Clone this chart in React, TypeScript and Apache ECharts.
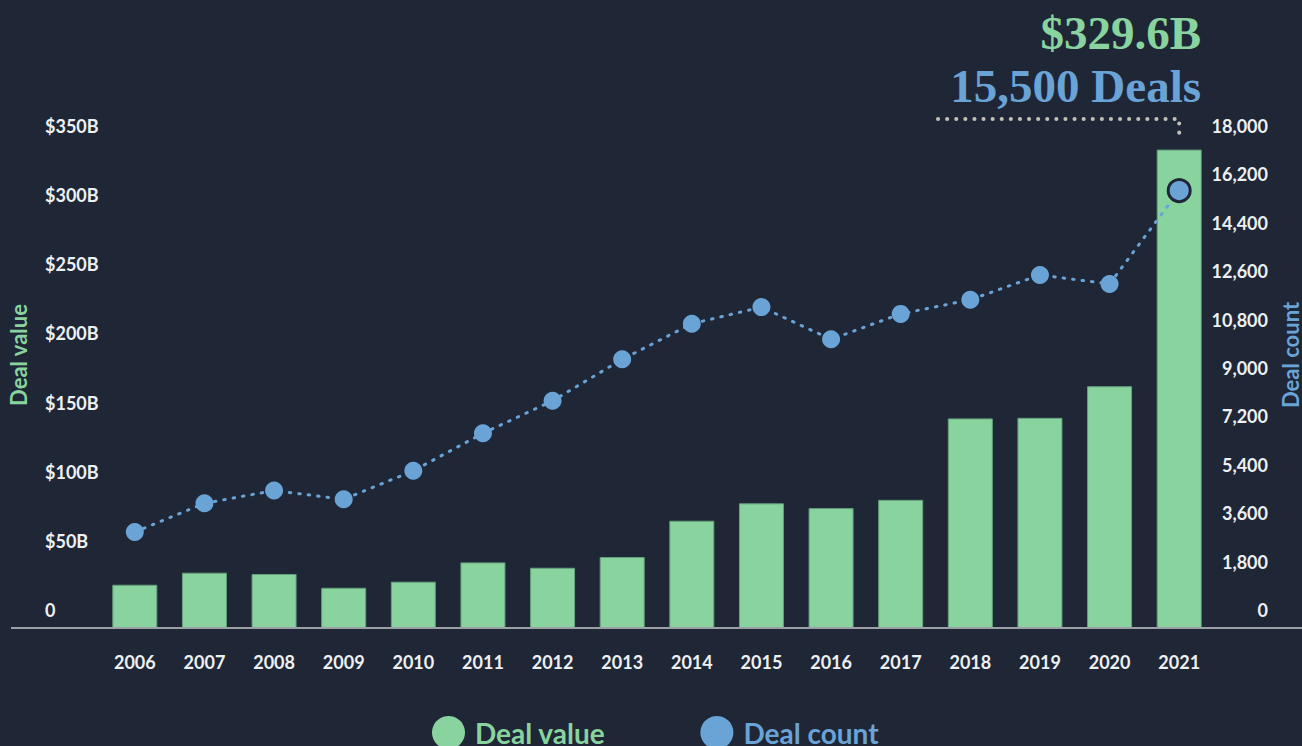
import React, { useEffect, useRef } from 'react';
import * as echarts from 'echarts';

const years = ['2006', '2007', '2008', '2009', '2010', '2011', '2012', '2013', '2014', '2015', '2016', '2017', '2018', '2019', '2020', '2021'];
const dealValue = [29.8, 38.1, 37.2, 27.7, 31.9, 45.2, 41.5, 48.9, 73.9, 85.9, 82.6, 88.3, 144.4, 144.8, 166.6, 329.6];
const dealCount = [3400, 4420, 4870, 4560, 5570, 6900, 8050, 9520, 10780, 11370, 10230, 11130, 11630, 12510, 12190, 15500];
const valueTickLabels = ['0', '$50B', '$100B', '$150B', '$200B', '$250B', '$300B', '$350B'];
const countTickLabels = ['0', '1,800', '3,600', '5,400', '7,200', '9,000', '10,800', '12,600', '14,400', '16,200', '18,000'];

const BG = '#1f2737';
const GREEN = '#88d39e';
const BLUE = '#6aa3d6';
const LABEL = '#eef0f2';
const SANS = 'Lato';
const SERIF = 'Liberation Serif';

export default function App() {
  const ref = useRef<HTMLDivElement>(null);
  useEffect(() => {
    document.body.style.margin = '0';
    document.body.style.background = BG;
    const chart = echarts.init(ref.current!, null, { renderer: 'svg' });
    const last = years.length - 1;
    const tickLabel = { color: LABEL, fontSize: 18, fontFamily: SANS, fontWeight: 'bold' as const };
    chart.setOption({
      animation: false,
      backgroundColor: BG,
      grid: [
        { left: 100, right: 88, top: 120, bottom: 118 },
        { left: 100, right: 88, top: 126, bottom: 136 },
      ],
      xAxis: [
        {
          type: 'category', gridIndex: 0, data: years,
          axisLine: { show: false }, axisTick: { show: false },
          axisLabel: { ...tickLabel, margin: 25 },
        },
        { type: 'value', gridIndex: 1, min: 0, max: 1, show: false },
      ],
      yAxis: [
        { type: 'value', gridIndex: 0, min: 0, max: 350, interval: 50, show: false },
        { type: 'value', gridIndex: 0, min: 0, max: 18000, interval: 1800, show: false, position: 'right' },
        {
          type: 'value', gridIndex: 1, min: 0, max: 350, interval: 50, position: 'left',
          axisLine: { show: false }, axisTick: { show: false }, splitLine: { show: false },
          axisLabel: { ...tickLabel, align: 'left', margin: 55, formatter: (v: number) => valueTickLabels[Math.round(v / 50)] },
        },
        {
          type: 'value', gridIndex: 1, min: 0, max: 18000, interval: 1800, position: 'right',
          axisLine: { show: false }, axisTick: { show: false }, splitLine: { show: false },
          axisLabel: { ...tickLabel, align: 'right', margin: 54, formatter: (v: number) => countTickLabels[Math.round(v / 1800)] },
        },
      ],
      legend: {
        left: 427, top: 711, icon: 'circle', itemWidth: 33, itemHeight: 33, itemGap: 95,
        itemStyle: { borderWidth: 0 },
        textStyle: { fontSize: 28, lineHeight: 24, fontFamily: SANS, fontWeight: 'bold', padding: [0, 0, 0, 5] },
        data: [
          { name: 'Deal value', textStyle: { color: GREEN } },
          { name: 'Deal count', textStyle: { color: BLUE } },
        ],
      },
      series: [
        {
          type: 'bar', name: 'Deal value', xAxisIndex: 0, yAxisIndex: 0, data: dealValue, barWidth: 45,
          itemStyle: { color: GREEN, borderColor: '#64a07c', borderWidth: 1 },
        },
        {
          type: 'line', name: 'Deal count', xAxisIndex: 0, yAxisIndex: 1, z: 3,
          data: dealCount.map((v, i) => (i === last ? { value: v, symbolSize: 22, itemStyle: { borderColor: BG, borderWidth: 3 } } : v)),
          symbol: 'circle', symbolSize: 18,
          itemStyle: { color: BLUE },
          lineStyle: { color: BLUE, width: 3, type: [1.5, 8], cap: 'round' },
        },
      ],
    });
    const px = chart.convertToPixel({ xAxisIndex: 0, yAxisIndex: 0 }, [years[last], dealValue[last]]) as number[];
    const x21 = px[0];
    const barTop = px[1];
    chart.setOption({
      graphic: [
        { type: 'line', z: 10, shape: { x1: 11, y1: 628, x2: 1302, y2: 628 }, style: { stroke: '#9ba0a6', lineWidth: 2 } },
        {
          type: 'polyline', z: 10,
          shape: { points: [[938, 119], [x21, 119], [x21, barTop - 10]] },
          style: { stroke: '#c4c0b8', lineWidth: 4, lineDash: [0.1, 9], lineCap: 'round', fill: null },
        },
        {
          type: 'text', x: 1201, y: 33, z: 10,
          style: { text: `$${dealValue[last]}B`, fill: GREEN, font: `bold 47px "${SERIF}"`, align: 'right', verticalAlign: 'middle' },
        },
        {
          type: 'text', x: 1201, y: 86, z: 10,
          style: { text: `${dealCount[last].toLocaleString('en-US')} Deals`, fill: BLUE, font: `bold 47px "${SERIF}"`, align: 'right', verticalAlign: 'middle' },
        },
        {
          type: 'text', x: 18, y: 355, rotation: Math.PI / 2, z: 10,
          style: { text: 'Deal value', fill: GREEN, font: `bold 22px ${SANS}`, align: 'center', verticalAlign: 'middle' },
        },
        {
          type: 'text', x: 1290, y: 355, rotation: Math.PI / 2, z: 10,
          style: { text: 'Deal count', fill: BLUE, font: `bold 22px ${SANS}`, align: 'center', verticalAlign: 'middle' },
        },
      ],
    });
    return () => chart.dispose();
  }, []);
  return <div ref={ref} style={{ width: 1302, height: 746 }} />;
}
